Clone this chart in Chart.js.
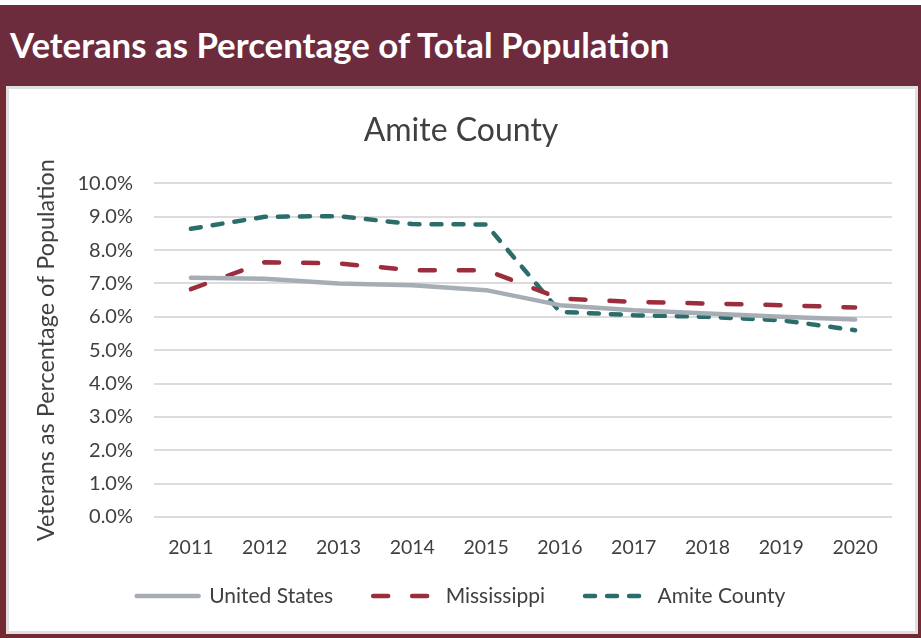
<!DOCTYPE html>
<html>
<head>
<meta charset="utf-8">
<script src="https://cdn.jsdelivr.net/npm/chart.js@4.4.0/dist/chart.umd.min.js"></script>
<style>
  html, body { margin: 0; padding: 0; background: #ffffff; width: 921px; height: 638px; overflow: hidden; }
  #frame { position: absolute; left: 0; top: 5px; width: 921px; height: 633px; background: #742a33; }
  #header { position: absolute; left: 0; top: 5px; width: 921px; height: 81px; background: #6d2b3e; }
  #header span { position: absolute; left: 10px; top: 19px; font-family: Lato, sans-serif; font-weight: bold; font-size: 34.8px; color: #ffffff; white-space: nowrap; }
  #panel { position: absolute; left: 6px; top: 86px; width: 906px; height: 542px; background: #ffffff; border: 3px solid #e0e0e0; }
  #wrap { position: absolute; left: 10px; top: 90px; width: 902px; height: 538px; }
</style>
</head>
<body>
<div id="frame"></div>
<div id="header"><span>Veterans as Percentage of Total Population</span></div>
<div id="panel"></div>
<div id="wrap"><canvas id="c" width="902" height="538"></canvas></div>
<script>
const years = ['2011','2012','2013','2014','2015','2016','2017','2018','2019','2020'];
const unitedStates = [7.17, 7.14, 7.00, 6.95, 6.80, 6.35, 6.20, 6.10, 6.00, 5.92];
const mississippi  = [6.83, 7.64, 7.60, 7.40, 7.40, 6.55, 6.45, 6.40, 6.35, 6.28];
const amiteCounty  = [8.64, 9.00, 9.02, 8.78, 8.77, 6.15, 6.05, 6.00, 5.90, 5.60];
const seriesNames = ['United States', 'Mississippi', 'Amite County'];
const chartTitle = 'Amite County';
const yAxisTitle = 'Veterans as Percentage of Population';

const textColor = '#404040';
const fontFamily = 'Lato, sans-serif';
const legendNudge = -11.5;

const legendShift = {
  id: 'legendShift',
  afterLayout(chart) {
    const lg = chart.legend;
    if (lg) { lg.top += legendNudge; lg.bottom += legendNudge; }
  }
};

new Chart(document.getElementById('c'), {
  type: 'line',
  data: {
    labels: years,
    datasets: [
      { label: seriesNames[0], data: unitedStates, borderColor: '#a7adb5', backgroundColor: '#a7adb5',
        borderWidth: 4.5, borderCapStyle: 'round', borderJoinStyle: 'round', pointRadius: 0, tension: 0 },
      { label: seriesNames[1], data: mississippi, borderColor: '#9b2d3d', backgroundColor: '#9b2d3d',
        borderWidth: 4.5, borderDash: [15, 24], borderCapStyle: 'round', borderJoinStyle: 'round', pointRadius: 0, tension: 0 },
      { label: seriesNames[2], data: amiteCounty, borderColor: '#2b6d6b', backgroundColor: '#2b6d6b',
        borderWidth: 4.5, borderDash: [10, 12], borderCapStyle: 'round', borderJoinStyle: 'round', pointRadius: 0, tension: 0 }
    ]
  },
  plugins: [legendShift],
  options: {
    responsive: false,
    animation: false,
    layout: { padding: { top: 17, left: 20, right: 20, bottom: 0 } },
    plugins: {
      tooltip: { enabled: false },
      title: {
        display: true, text: chartTitle, color: textColor,
        font: { family: fontFamily, size: 32, weight: 'normal' },
        padding: { top: 4, bottom: 34 }
      },
      legend: {
        position: 'bottom',
        labels: {
          usePointStyle: true, pointStyle: 'line', pointStyleWidth: 62,
          color: textColor, font: { family: fontFamily, size: 21 },
          padding: 40,
          generateLabels: (chart) => {
            const items = Chart.defaults.plugins.legend.labels.generateLabels(chart);
            items.forEach((it) => {
              const ds = chart.data.datasets[it.datasetIndex];
              it.lineDash = ds.borderDash || [];
              it.lineCap = 'round';
              it.lineWidth = 4.5;
              it.strokeStyle = ds.borderColor;
            });
            return items;
          }
        }
      }
    },
    scales: {
      x: {
        offset: true,
        grid: { display: false, drawTicks: false },
        border: { display: false },
        ticks: { color: textColor, font: { family: fontFamily, size: 19.5 }, padding: 19, maxRotation: 0 },
        afterFit: (s) => { s.height = 40; }
      },
      y: {
        min: 0, max: 10,
        grid: { color: '#dcdcdc', lineWidth: 2, drawTicks: false },
        border: { display: false },
        ticks: { stepSize: 1, color: textColor, font: { family: fontFamily, size: 20 }, padding: 21,
                 callback: (v) => v.toFixed(1) + '%' },
        title: { display: true, text: yAxisTitle, color: textColor,
                 font: { family: fontFamily, size: 23.4 }, padding: { top: 2, bottom: 0 } },
        afterFit: (s) => { s.width = 124; }
      }
    }
  }
});
</script>
</body>
</html>
